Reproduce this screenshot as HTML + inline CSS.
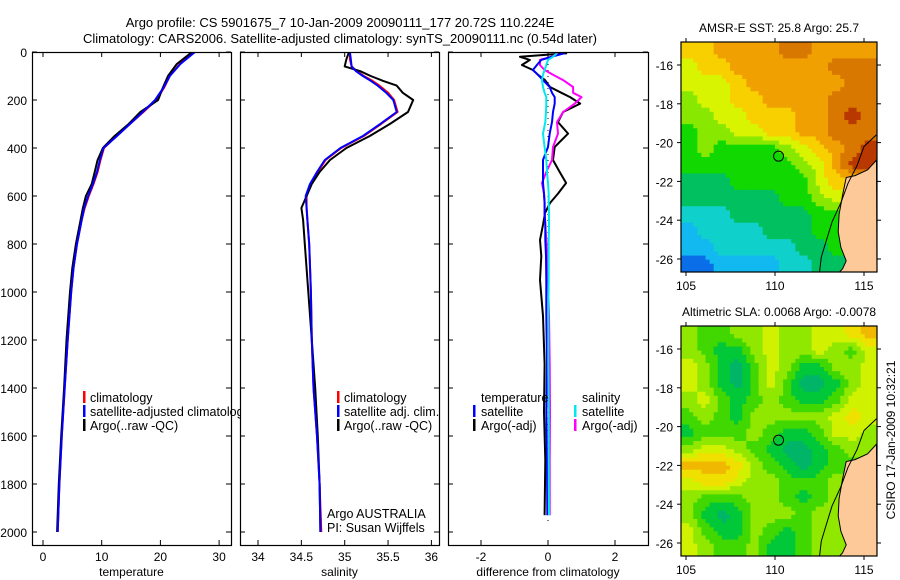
<!DOCTYPE html>
<html><head><meta charset="utf-8"><style>
html,body{margin:0;padding:0;background:#fff;width:900px;height:580px;overflow:hidden}
svg{display:block;font-family:"Liberation Sans",sans-serif}
</style></head><body>
<svg id="fig" width="900" height="580" viewBox="0 0 900 580" xmlns="http://www.w3.org/2000/svg"></svg>
<script>
// ---------- data ----------
const tDepth=[0,50,100,150,200,250,300,350,400,450,500,550,600,650,700,800,900,1000,1200,1400,1600,1800,2000];
const tClim=[25.6,23.3,21.6,20.6,19.3,17.1,14.8,12.5,10.4,9.8,9.3,8.6,7.8,7.1,6.6,5.8,5.2,4.8,4.2,3.7,3.2,2.8,2.5];
const tSat=[25.9,23.4,21.6,20.5,19.1,17.0,14.8,12.6,10.3,9.7,9.2,8.5,7.7,7.0,6.6,5.8,5.2,4.8,4.2,3.7,3.2,2.8,2.5];
const tArgo=[25.4,22.8,21.3,20.4,19.6,16.6,14.6,12.2,10.2,9.3,8.8,8.3,7.3,6.8,6.4,5.6,5.0,4.6,4.0,3.6,3.1,2.7,2.4];
const sDepth=[0,30,60,80,100,120,140,170,200,250,300,350,400,450,500,550,600,650,700,800,1000,1200,1400,1600,1800,2000];
const sClim=[35.06,35.06,35.08,35.14,35.22,35.32,35.40,35.50,35.57,35.61,35.42,35.22,34.96,34.78,34.69,34.61,34.56,34.56,34.57,34.59,34.61,34.62,34.64,34.68,34.71,34.73];
const sSat=[35.06,35.07,35.08,35.13,35.21,35.30,35.38,35.48,35.56,35.60,35.41,35.21,34.95,34.77,34.68,34.60,34.55,34.56,34.57,34.59,34.61,34.62,34.64,34.68,34.71,34.72];
const sArgo=[35.05,35.02,35.00,35.18,35.30,35.44,35.60,35.67,35.79,35.73,35.52,35.29,35.02,34.83,34.71,34.62,34.56,34.50,34.52,34.54,34.58,34.62,34.66,34.69,34.71,34.72];
const dDepth=[5,20,33,54,75,95,117,146,170,188,215,250,292,340,396,450,500,546,590,629,671,720,783,850,950,1100,1300,1500,1700,1930];
const dArgoT=[0.57,-0.84,-0.54,-0.78,-0.45,-0.3,-0.09,0.06,0.4,0.66,0.96,0.45,0.3,0.6,0.2,0.15,0.35,0.54,0.3,0.06,-0.09,-0.15,-0.24,-0.2,-0.24,-0.15,-0.1,-0.12,-0.08,-0.1];
const dSatT=[0.5,0.1,-0.2,-0.33,-0.45,-0.3,-0.15,0.05,0.12,0.2,0.2,0.15,0.12,0.05,0,-0.15,-0.15,-0.15,-0.12,-0.1,-0.1,-0.08,-0.08,-0.06,-0.05,-0.05,-0.03,-0.05,-0.03,-0.02];
const dSatS=[0.27,0.15,0.0,-0.05,-0.1,-0.15,-0.18,-0.15,-0.1,-0.05,-0.05,-0.06,-0.08,-0.15,-0.1,-0.05,-0.03,0,0.02,0.02,0.03,0.03,0.02,0.02,0.02,0.01,0.01,0.02,0.02,0.03];
const dArgoS=[0.3,0.1,-0.24,-0.24,-0.1,0.15,0.45,0.75,0.75,1.0,0.8,0.45,0.27,0.3,0.15,0.12,-0.05,-0.18,-0.12,-0.1,-0.1,-0.08,-0.05,-0.02,0,0.03,0.05,0.06,0.05,0.05];
const depthTicks=[0,200,400,600,800,1000,1200,1400,1600,1800,2000];
const tempTicks=[0,10,20,30];
const salTicks=[34,34.5,35,35.5,36];
const diffTicks=[-2,0,2];
const latTicks=[-16,-18,-20,-22,-24,-26];
const lonTicks=[105,110,115];
// SST grid (12 lon x 14 lat), colour index; -1 = land
const sstGrid=[
[7,7,8,8,8,8,9,9,8,8,8,8],
[6,7,7,8,8,8,8,8,8,9,9,9],
[6,6,6,7,8,8,8,8,8,8,9,9],
[5,6,6,7,7,8,8,8,8,9,9,9],
[5,5,6,6,7,7,7,8,8,9,10,9],
[4,5,5,6,6,7,7,8,8,9,9,9],
[4,5,4,4,4,4,5,6,7,8,9,10],
[4,4,4,4,4,4,4,5,6,8,10,-1],
[3,3,3,4,4,4,4,4,6,7,-1,-1],
[3,3,3,3,3,3,4,4,5,6,-1,-1],
[2,2,2,3,3,3,3,3,4,4,-1,-1],
[1,2,2,2,2,3,3,3,4,4,-1,-1],
[1,1,2,2,2,2,2,3,3,4,-1,-1],
[0,0,1,1,1,1,2,2,3,3,-1,-1]];
const slaGrid=[
[3,2,2,3,3,4,3,3,4,4,5,6],
[3,2,1,1,3,4,3,3,4,3,2,4],
[4,3,1,0,2,4,3,1,1,3,3,4],
[4,3,1,0,2,4,2,0,0,1,3,4],
[3,4,2,1,2,3,2,1,1,2,4,4],
[2,3,2,1,3,3,3,3,3,4,5,4],
[1,2,2,2,3,2,1,1,2,4,4,3],
[3,4,4,3,2,1,0,0,1,2,3,-1],
[6,6,6,5,3,2,1,0,1,2,-1,-1],
[4,5,5,4,3,3,2,2,2,3,-1,-1],
[3,2,2,2,3,3,2,1,2,3,-1,-1],
[3,1,0,1,3,3,3,2,3,3,-1,-1],
[4,2,1,1,3,2,1,2,3,3,-1,-1],
[4,3,2,2,3,1,1,2,3,3,-1,-1]];
const sstColors=["#0a6ee8","#12b8f0","#10d0cc","#00c060","#10d800","#88e800","#d8f400","#f8d000","#f0a000","#d87800","#b83800"];
const slaColors=["#00b468","#00c838","#40d800","#90e800","#d0f200","#f0e000","#f0b800"];
const argoLon=110.2, argoLat=-20.7;
const coastLon=[115.7,115.2,114.5,114.0,113.8,113.6,113.55,113.7,114.0,113.8,113.6,115.7];
const coastLat=[-20.9,-21.4,-21.7,-21.8,-22.7,-23.7,-24.6,-25.4,-26.1,-26.5,-26.7,-26.7];
const shelfLon=[115.7,115.0,114.6,114.1,113.7,113.2,112.9,112.6,112.5];
const shelfLat=[-19.6,-20.2,-21.2,-22.1,-23.1,-24.1,-25.0,-25.9,-26.7];

// ---------- helpers ----------
const S="http://www.w3.org/2000/svg";
const svg=document.getElementById('fig');
function mk(tag,at,parent){const e=document.createElementNS(S,tag);for(const k in at)e.setAttribute(k,at[k]);(parent||svg).appendChild(e);return e;}
function txt(x,y,s,anchor,size,parent){const t=mk('text',{x:x,y:y,'text-anchor':anchor||'start','font-size':size||12,fill:'#000'},parent);t.textContent=s;return t;}

const PT=52,PB=545;
const yD=d=>52+d*0.24;
const panels=[{x0:32,x1:231},{x0:240,x1:439},{x0:448,x1:648}];
const xT=v=>43+v*5.87;
const xS=v=>258+(v-34)*86.7;
const xDf=v=>548+v*33.5;

function line(xs,ys,fx,fy,color,name,w,parent){
  let p=xs.map((v,i)=>fx(v).toFixed(1)+','+fy(ys[i]).toFixed(1)).join(' ');
  const l=mk('polyline',{points:p,fill:'none',stroke:color,'stroke-width':w||2,'stroke-linejoin':'round'},parent);
  
  
  return l;
}
function legBar(x,y,color,name,parent){const r=mk('rect',{x:x,y:y,width:2.5,height:12,fill:color},parent);
  
  }

const t1=txt(340,27,'Argo profile: CS 5901675_7 10-Jan-2009 20090111_177 20.72S 110.224E','middle',13);


const t2=txt(340,43,'Climatology: CARS2006. Satellite-adjusted climatology: synTS_20090111.nc (0.54d later)','middle',13);



function panelGroup(p,name,id){
  const clip=mk('clipPath',{id:id});
  mk('rect',{x:p.x0,y:PT,width:p.x1-p.x0+9,height:PB-PT},clip);
  const g=mk('g',{'clip-path':'url(#'+id+')'});
  
  
  return g;
}
function panelAxes(p,xticks,fx,labels,title,nameAx){
  const g=mk('g',{});
  
  
  mk('rect',{x:p.x0+.5,y:PT+.5,width:p.x1-p.x0,height:PB-PT,fill:'none',stroke:'#000','stroke-width':1.2},g);
  depthTicks.forEach(d=>{const y=yD(d);
    mk('line',{x1:p.x0,x2:p.x0+5,y1:y,y2:y,stroke:'#000'},g);
    mk('line',{x1:p.x1-5,x2:p.x1,y1:y,y2:y,stroke:'#000'},g);});
  xticks.forEach((v,i)=>{const x=fx(v);
    mk('line',{x1:x,x2:x,y1:PB-5,y2:PB,stroke:'#000'},g);
    mk('line',{x1:x,x2:x,y1:PT,y2:PT+5,stroke:'#000'},g);
    txt(x,561,labels[i],'middle',12,g);});
  txt((p.x0+p.x1)/2,576,title,'middle',12,g);
}

// Panel 1
const g1=panelGroup(panels[0],'temperature-panel','c1');
line(tClim,tDepth,xT,yD,'#ff0000','temp-climatology-line',2,g1);
line(tArgo,tDepth,xT,yD,'#000000','temp-argo-line',2,g1);
line(tSat,tDepth,xT,yD,'#0000ff','temp-satellite-line',2,g1);
legBar(83,391,'#ff0000','legend-climatology-marker',g1);
legBar(83,405,'#0000ff','legend-satellite-marker',g1);
legBar(83,419,'#000','legend-argo-marker',g1);
txt(90,402,'climatology','start',12.5,g1);txt(90,416,'satellite-adjusted climatology','start',12.5,g1);txt(90,430,'Argo(..raw -QC)','start',12.5,g1);
depthTicks.forEach(d=>txt(27,yD(d)+5,String(d),'end',12));
// Panel 2
const g2=panelGroup(panels[1],'salinity-panel','c2');
mk('rect',{x:240,y:PT,width:199,height:PB-PT,fill:'#fff'},g2);
line(sClim,sDepth,xS,yD,'#ff0000','sal-climatology-line',2,g2);
line(sArgo,sDepth,xS,yD,'#000000','sal-argo-line',2,g2);
line(sSat,sDepth,xS,yD,'#0000ff','sal-satellite-line',2,g2);
legBar(337,391,'#ff0000','legend2-climatology-marker',g2);
legBar(337,405,'#0000ff','legend2-satellite-marker',g2);
legBar(337,419,'#000','legend2-argo-marker',g2);
txt(344,402,'climatology','start',12.5,g2);txt(344,416,'satellite adj. clim.','start',12.5,g2);txt(344,430,'Argo(..raw -QC)','start',12.5,g2);
txt(327,518,'Argo AUSTRALIA','start',12.5,g2);txt(327,532,'PI: Susan Wijffels','start',12.5,g2);
// Panel 3
const g3=panelGroup(panels[2],'difference-panel','c3');
mk('rect',{x:448,y:PT,width:200,height:PB-PT,fill:'#fff'},g3);
mk('line',{x1:xDf(0),x2:xDf(0),y1:PT,y2:PB-20,stroke:'#000','stroke-dasharray':'1,5'},g3);
line(dArgoT,dDepth,xDf,yD,'#000000','diff-argo-temp-line',2,g3);
line(dArgoS,dDepth,xDf,yD,'#ff00ff','diff-argo-sal-line',2,g3);
line(dSatT,dDepth,xDf,yD,'#0000ff','diff-satellite-temp-line',2,g3);
line(dSatS,dDepth,xDf,yD,'#00e8f0','diff-satellite-sal-line',2,g3);
txt(481,402,'temperature','start',12.5,g3);txt(582,402,'salinity','start',12.5,g3);
legBar(473,405,'#0000ff','legend3-sat-temp-marker',g3);legBar(473,419,'#000','legend3-argo-temp-marker',g3);
legBar(574,405,'#00e8f0','legend3-sat-sal-marker',g3);legBar(574,419,'#ff00ff','legend3-argo-sal-marker',g3);
txt(481,416,'satellite','start',12.5,g3);txt(481,430,'Argo(-adj)','start',12.5,g3);txt(582,416,'satellite','start',12.5,g3);txt(582,430,'Argo(-adj)','start',12.5,g3);

panelAxes(panels[0],tempTicks,xT,['0','10','20','30'],'temperature','temperature-axes');
panelAxes(panels[1],salTicks,xS,['34','34.5','35','35.5','36'],'salinity','salinity-axes');
panelAxes(panels[2],diffTicks,xDf,['-2','0','2'],'difference from climatology','difference-axes');

// ---------- maps ----------
function fillLand(grid){
  return grid.map(row=>{const r=row.slice();for(let c=0;c<r.length;c++){if(r[c]<0){let k=c;while(k>0&&r[k]<0)k--;r[c]=r[k];}}return r;});
}
function drawMap(top,grid,colors,title,name){
  const L=681,R=877,T=top,B=top+230;
  const lonX=v=>686+(v-105)*17.8;
  const latY=v=>top+23+(-16-v)*19.4;
  const g=mk('g',{});
  
  
  const clip=mk('clipPath',{id:'clip'+top},g);
  mk('rect',{x:L,y:T,width:R-L,height:B-T},clip);
  const cg=mk('g',{'clip-path':'url(#clip'+top+')'},g);
  const G=fillLand(grid), nr=G.length, nc=G[0].length, sub=4;
  const cw=(R-L)/(nc*sub), ch=(B-T)/(nr*sub);
  for(let r=0;r<nr*sub;r++)for(let c=0;c<nc*sub;c++){
    const fy=Math.min(nr-1,Math.max(0,(r+0.5)/sub-0.5)), fx=Math.min(nc-1,Math.max(0,(c+0.5)/sub-0.5));
    const r0=Math.floor(fy),c0=Math.floor(fx),r1=Math.min(nr-1,r0+1),c1=Math.min(nc-1,c0+1),ay=fy-r0,ax=fx-c0;
    const v=G[r0][c0]*(1-ax)*(1-ay)+G[r0][c1]*ax*(1-ay)+G[r1][c0]*(1-ax)*ay+G[r1][c1]*ax*ay;
    const idx=Math.max(0,Math.min(colors.length-1,Math.round(v)));
    const cell=mk('rect',{x:(L+c*cw).toFixed(2),y:(T+r*ch).toFixed(2),width:(cw+0.4).toFixed(2),height:(ch+0.4).toFixed(2),fill:colors[idx]},cg);
    
    
  }
  let lp=coastLon.map((v,i)=>lonX(v).toFixed(1)+','+latY(coastLat[i]).toFixed(1)).join(' ');
  const land=mk('polygon',{points:lp+' '+R+','+B,fill:'#fdc998',stroke:'#000','stroke-width':1},cg);
  
  
  line(shelfLon,shelfLat,lonX,latY,'#000','shelf-contour',1,cg);
  const c=mk('circle',{cx:lonX(argoLon),cy:latY(argoLat),r:5,fill:'none',stroke:'#000','stroke-width':1},g);
  
  
  mk('rect',{x:L,y:T,width:R-L,height:B-T,fill:'none',stroke:'#000','stroke-width':1.2},g);
  latTicks.forEach(v=>{const y=latY(v);
    mk('line',{x1:L-4,x2:L,y1:y,y2:y,stroke:'#000'},g);
    mk('line',{x1:R,x2:R+4,y1:y,y2:y,stroke:'#000'},g);
    txt(673,y+5,String(v),'end',12,g);});
  lonTicks.forEach(v=>{const x=lonX(v);
    mk('line',{x1:x,x2:x,y1:B,y2:B+4,stroke:'#000'},g);
    mk('line',{x1:x,x2:x,y1:T-4,y2:T,stroke:'#000'},g);
    txt(x,B+18,String(v),'middle',12,g);});
  txt((L+R)/2,top-10,title,'middle',12,g);
}
drawMap(42,sstGrid,sstColors,'AMSR-E SST: 25.8 Argo: 25.7','sst-map');
drawMap(326,slaGrid,slaColors,'Altimetric SLA: 0.0068 Argo: -0.0078','sla-map');

const st=txt(0,0,'CSIRO 17-Jan-2009 10:32:21','middle',12);
st.setAttribute('transform','translate(895,440) rotate(-90)');


</script>
</body></html>
